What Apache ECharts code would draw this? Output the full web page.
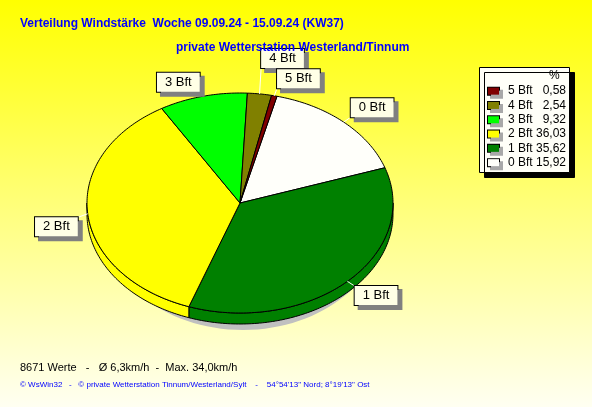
<!DOCTYPE html>
<html>
<head>
<meta charset="utf-8">
<script src="https://cdn.jsdelivr.net/npm/echarts@6/dist/echarts.min.js"></script>
<style>
html,body{margin:0;padding:0;background:#fff;}
#chart{width:592px;height:407px;}
</style>
</head>
<body>
<div id="chart"></div>
<script>
// ---- data ----
const categories = ['0 Bft', '1 Bft', '2 Bft', '3 Bft', '4 Bft', '5 Bft'];
const percentages = [15.92, 35.62, 36.03, 9.32, 2.54, 0.58];
const sliceColors = ['#fffffa', '#008000', '#ffff00', '#00ff00', '#808000', '#800000'];
const titleLine1 = 'Verteilung Windstärke  Woche 09.09.24 - 15.09.24 (KW37)';
const titleLine2 = 'private Wetterstation Westerland/Tinnum';
const footerLine1 = '8671 Werte   -   Ø 6,3km/h  -  Max. 34,0km/h';
const footerLine2 = '© WsWin32   -   © private Wetterstation Tinnum/Westerland/Sylt    -    54°54\'13" Nord; 8°19\'13" Ost';

// ---- layout constants ----
const CX = 240, CY = 203, RX = 153, RY = 110, DEPTH = 11, START = 14; // START: degrees clockwise from top
const LABEL_FONT_SIZE = 13;
const LABEL_PAD = [2, 8, 2, 8];
const LABEL_LH = 15;

function fmt(v) { return v.toFixed(2).replace('.', ','); }
function pt(theta, dy) {
  const r = theta * Math.PI / 180;
  return [CX + RX * Math.sin(r), CY - RY * Math.cos(r) + (dy || 0)];
}
function arc(a0, a1, dy) {
  const pts = [];
  const n = Math.max(2, Math.ceil(Math.abs(a1 - a0)));
  for (let k = 0; k <= n; k++) pts.push(pt(a0 + (a1 - a0) * k / n, dy));
  return pts;
}

// cumulative angles
const total = percentages.reduce((a, b) => a + b, 0);
const angles = [];
let acc = START;
percentages.forEach(v => { const s = acc; acc += v / total * 360; angles.push([s, acc]); });

// label layout (computed from the slice mid angles)
const measureCtx = document.createElement('canvas').getContext('2d');
measureCtx.font = LABEL_FONT_SIZE + 'px Arial';
const labels = [];
for (let i = categories.length - 1; i >= 0; i--) {
  const mid = (angles[i][0] + angles[i][1]) / 2;
  const P = pt(mid);
  let dx = P[0] - CX, dy = P[1] - CY; const len = Math.hypot(dx, dy); dx /= len; dy /= len;
  const right = Math.sin(mid * Math.PI / 180) >= 0;
  const upper = Math.cos(mid * Math.PI / 180) > 0;
  const E = [P[0] + dx * (right ? 9 : 10), P[1] + dy * 8 + (right ? 0 : 3)];
  const w = measureCtx.measureText(categories[i]).width + LABEL_PAD[1] + LABEL_PAD[3];
  const h = LABEL_LH + LABEL_PAD[0] + LABEL_PAD[2];
  let box = { x: right ? E[0] : E[0] - w, y: upper ? E[1] - h : E[1], w, h };
  let guard = 0;
  while (labels.some(l => !(box.x + box.w < l.box.x || l.box.x + l.box.w < box.x || box.y + box.h + 1 <= l.box.y || l.box.y + l.box.h + 1 <= box.y)) && guard++ < 200) {
    box.y += upper ? -1 : 1;
  }
  const anchor = [right ? box.x : box.x + box.w, upper ? box.y + box.h : box.y];
  labels.push({ i, P, anchor, box, right, upper });
}
const labelByIndex = {};
labels.forEach(l => labelByIndex[l.i] = l);

function renderItem(params, api) {
  const i = params.dataIndex;
  const [a0, a1] = angles[i];
  const color = sliceColors[i];
  const children = [];
  if (i === 0) {
    children.push({ type: 'ellipse', shape: { cx: CX + 3, cy: CY + 10, rx: RX - 9, ry: RY + 7 }, style: { fill: '#c0c0c0' }, z2: 0 });
  }
  // side band (front-facing part 90..270 deg)
  const s = Math.max(a0, 90), e = Math.min(a1, 270);
  if (e > s) {
    const top = arc(s, e, 0), bot = arc(e, s, DEPTH);
    children.push({ type: 'polygon', shape: { points: top.concat(bot) }, style: { fill: color, stroke: '#000', lineWidth: 1 }, z2: 1 });
  }
  // top face
  const face = [[CX, CY]].concat(arc(a0, a1, 0));
  children.push({ type: 'polygon', shape: { points: face }, style: { fill: color, stroke: '#000', lineWidth: 1 }, z2: 2 });
  // label line + box
  const L = labelByIndex[i];
  children.push({ type: 'line', shape: { x1: L.P[0], y1: L.P[1], x2: L.anchor[0], y2: L.anchor[1] }, style: { stroke: '#ffffff', lineWidth: 1 }, z2: 10 });
  children.push({
    type: 'text', x: L.box.x, y: L.box.y, z2: 11,
    style: {
      text: categories[i], fontSize: LABEL_FONT_SIZE, fontFamily: 'Arial', fill: '#000', align: 'left', verticalAlign: 'top',
      lineHeight: LABEL_LH, padding: LABEL_PAD, backgroundColor: '#ffffe6', borderColor: '#000', borderWidth: 1,
      shadowColor: '#808080', shadowOffsetX: 4, shadowOffsetY: 4, shadowBlur: 0
    }
  });
  return { type: 'group', children };
}

// legend rich text (5 Bft on top)
const txt = { fontSize: 12, fontFamily: 'Arial', fontWeight: 'normal', color: '#000' };
const rich = {
  hdpad: { width: 61, lineHeight: 16 },
  hd: Object.assign({ lineHeight: 16 }, txt),
  gap: { width: 9, lineHeight: 14.3 },
  name: Object.assign({ width: 30, lineHeight: 14.3 }, txt),
  val: Object.assign({ width: 28, align: 'right', lineHeight: 14.3 }, txt)
};
const legendLines = ['{hdpad|}{hd|%}'];
for (let i = categories.length - 1; i >= 0; i--) {
  rich['sw' + i] = { width: 11, height: 7, backgroundColor: sliceColors[i], borderColor: '#000', borderWidth: 1,
    shadowColor: '#a8a8a8', shadowOffsetX: 3, shadowOffsetY: 3, shadowBlur: 0, lineHeight: 14.3 };
  legendLines.push('{sw' + i + '|}{gap|}{name|' + categories[i] + '}{val|' + fmt(percentages[i]) + '}');
}

const chart = echarts.init(document.getElementById('chart'), null, { renderer: 'canvas' });
chart.setOption({
  animation: false,
  backgroundColor: new echarts.graphic.LinearGradient(0, 0, 0, 1, [
    { offset: 0, color: '#ffff00' }, { offset: 1, color: '#fffff2' }
  ]),
  title: [
    { text: titleLine1, left: 20, top: 18, padding: 0, textStyle: { fontFamily: 'Arial', fontWeight: 'bold', fontSize: 12, color: '#0000ff' } },
    { text: titleLine2, left: 176, top: 42, padding: 0, textStyle: { fontFamily: 'Arial', fontWeight: 'bold', fontSize: 12, color: '#0000ff' } },
    { text: footerLine1, left: 20, top: 362, padding: 0, textStyle: { fontFamily: 'Arial', fontWeight: 'normal', fontSize: 11, color: '#000' } },
    { text: footerLine2, left: 20, top: 381, padding: 0, textStyle: { fontFamily: 'Arial', fontWeight: 'normal', fontSize: 8, color: '#0000ff' } },
    {
      text: legendLines.join('\n'), left: 480, top: 65, padding: [3, 4, 4, 8],
      backgroundColor: '#fffff8', borderColor: '#000', borderWidth: 1,
      shadowColor: '#000', shadowOffsetX: 5, shadowOffsetY: 5, shadowBlur: 0,
      textStyle: Object.assign({ rich }, txt)
    }
  ],
  series: [{
    type: 'custom',
    coordinateSystem: 'none',
    silent: true,
    data: percentages.map((v, i) => ({ name: categories[i], value: v })),
    renderItem
  }]
});
</script>
</body>
</html>
